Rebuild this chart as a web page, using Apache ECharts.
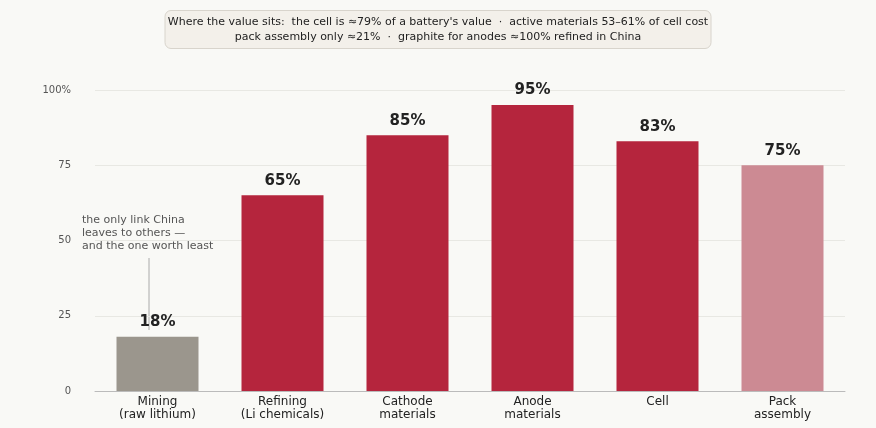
<!DOCTYPE html>
<html><head><meta charset="utf-8">
<script src="https://cdn.jsdelivr.net/npm/echarts@6/dist/echarts.min.js"></script>
<style>html,body{margin:0;padding:0;background:#f9f9f6}#c{width:876px;height:428px}</style>
</head><body><div id="c"></div>
<script>
const categories=['Mining\n(raw lithium)','Refining\n(Li chemicals)','Cathode\nmaterials','Anode\nmaterials','Cell','Pack\nassembly'];
const values=[18,65,85,95,83,75];
const colors=['#9b968d','#b5253d','#b5253d','#b5253d','#b5253d','#cc8a93'];
const yTicks={0:'0',25:'25',50:'50',75:'75',100:'100%'};
const F='DejaVu Sans';
const chart=echarts.init(document.getElementById('c'));
chart.setOption({
 backgroundColor:'#f9f9f6',
 animation:false,
 textStyle:{fontFamily:F},
 grid:{left:95,right:31,top:90,bottom:37},
 xAxis:{type:'category',data:categories,axisTick:{show:false},
  axisLine:{lineStyle:{color:'#bbb'}},
  axisLabel:{color:'#222',fontSize:12,lineHeight:13,margin:4,fontFamily:F}},
 yAxis:{type:'value',min:0,max:100,interval:25,
  axisLabel:{color:'#555',fontSize:10,formatter:v=>yTicks[v],margin:24,fontFamily:F},
  splitLine:{lineStyle:{color:'#e8e8e3'}},axisLine:{show:false},axisTick:{show:false}},
 series:[{type:'bar',barWidth:82,
  data:values.map((v,i)=>({value:v,itemStyle:{color:colors[i]}})),
  label:{show:true,position:'top',distance:7,formatter:'{c}%',fontSize:15,fontWeight:'bold',color:'#222',fontFamily:F}}],
 graphic:[
  {type:'group',left:'center',top:10,children:[
   {type:'rect',shape:{x:0,y:0,width:546,height:38,r:6},style:{fill:'#f3f0ea',stroke:'#d8d4cc',lineWidth:1}},
   {type:'text',style:{x:273,y:19,text:"Where the value sits:  the cell is ≈79% of a battery's value  ·  active materials 53–61% of cell cost\npack assembly only ≈21%  ·  graphite for anodes ≈100% refined in China",align:'center',verticalAlign:'middle',fontSize:11,lineHeight:15,fill:'#222',fontFamily:F}}]},
  {type:'text',left:82,top:214,style:{text:'the only link China\nleaves to others —\nand the one worth least',align:'center',fontSize:11,lineHeight:13,fill:'#555',fontFamily:F,x:0}},
  {type:'line',shape:{x1:149,y1:258,x2:149,y2:330},style:{stroke:'#aaa',lineWidth:1}}
 ]
});
</script></body></html>
